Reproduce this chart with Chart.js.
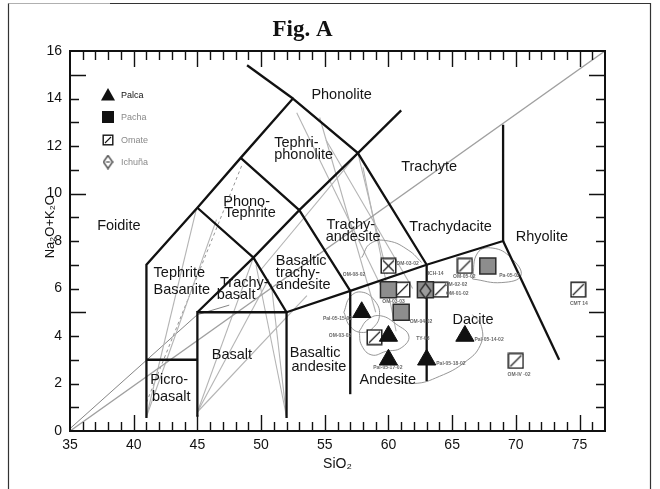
<!DOCTYPE html>
<html>
<head>
<meta charset="utf-8">
<script src="https://cdn.jsdelivr.net/npm/chart.js@4.4.1/dist/chart.umd.min.js"></script>
<style>
  html, body { margin: 0; padding: 0; background: #fff; }
  canvas { display: block; }
</style>
</head>
<body>
<canvas id="tas" width="660" height="489"></canvas>
<script>
const SANS = "'Liberation Sans', Arial, Helvetica, sans-serif";

// Axis tick labels
const xTickLabels = [35, 40, 45, 50, 55, 60, 65, 70, 75];
const yTickLabels = [0, 2, 4, 6, 8, 10, 12, 14, 16];

// Sample groups: SiO2 and Na2O+K2O (wt %)
const groupNames = ['Palca', 'Pacha', 'Omate', 'Ichuña'];
const palcaSiO2  = [57.9, 60.0, 60.0, 63.0, 66.0];
const palcaAlk   = [5.0, 4.0, 3.0, 3.0, 4.0];
const pachaSiO2  = [60.0, 61.0, 62.9, 67.8];
const pachaAlk   = [5.95, 5.0, 5.95, 6.95];
const omateSiO2  = [60.0, 61.1, 64.1, 66.0, 58.9, 70.0, 74.9];
const omateAlk   = [6.95, 5.95, 5.95, 6.95, 3.95, 2.95, 5.95];
const ichunaSiO2 = [62.9];
const ichunaAlk  = [5.9];

// Sample tags
const tagText = ['OM-03-02', 'OM-08-02', 'ICH-14', 'OM-05-02', 'OM-02-02', 'OM-01-02', 'OM-03-03',
                 'OM-04-02', 'TY-03', 'Pal-05-15-02', 'OM-03-02', 'Pal-05-17-02', 'Pal-05-18-02',
                 'Pal-05-14-02', 'Pa-05-02', 'CMT 14', 'OM-IV -02'];
const tagSiO2 = [61.5, 57.3, 63.7, 65.95, 65.3, 65.4, 60.4, 62.55, 62.7, 56.0, 56.2, 59.95, 64.9, 67.9, 69.5, 74.95, 70.25];
const tagAlk  = [7.06, 6.6, 6.64, 6.5, 6.18, 5.8, 5.44, 4.6, 3.9, 4.75, 4.0, 2.65, 2.85, 3.85, 6.55, 5.38, 2.36];

// TAS field names (one entry per text line, left edge + middle)
const fieldText = ['Phonolite', 'Tephri-', 'phonolite', 'Trachyte', 'Trachydacite', 'Phono-', 'Tephrite',
                   'Foidite', 'Tephrite', 'Basanite', 'Trachy-', 'basalt', 'Basaltic', 'trachy-', 'andesite',
                   'Trachy-', 'andesite', 'Basalt', 'Picro-', 'basalt', 'Basaltic', 'andesite',
                   'Andesite', 'Dacite', 'Rhyolite'];
const fieldSiO2 = [53.95, 51.03, 51.03, 61.0, 61.64, 47.03, 47.1, 37.13, 41.56, 41.56, 46.78, 46.52,
                   51.16, 51.16, 51.16, 55.13, 55.07, 46.13, 41.3, 41.43, 52.25, 52.39, 57.73, 65.03, 69.99];
const fieldAlk  = [14.15, 12.11, 11.62, 11.13, 8.6, 9.65, 9.16, 8.63, 6.64, 5.94, 6.22, 5.73,
                   7.17, 6.64, 6.15, 8.67, 8.15, 3.2, 2.15, 1.44, 3.27, 2.71, 2.15, 4.67, 8.16];

// TAS field boundaries (SiO2, Na2O+K2O vertices)
const boundaries = [
  [[41, 0.55], [41, 7], [45, 9.4], [48.4, 11.5], [52.5, 14], [57.6, 11.7], [63, 7], [69, 8], [69, 12.9]],
  [[48.9, 15.4], [52.5, 14]],
  [[57.6, 11.7], [61, 13.5]],
  [[41, 3], [45, 3]],
  [[45, 0.6], [45, 5], [52, 5], [52, 0.55]],
  [[45, 5], [49.4, 7.3], [52, 5]],
  [[45, 9.4], [49.4, 7.3], [53, 9.3], [57, 5.9]],
  [[48.4, 11.5], [53, 9.3], [57.6, 11.7]],
  [[52, 5], [57, 5.9], [63, 7]],
  [[57, 1.55], [57, 5.9]],
  [[63, 2.1], [63, 7]],
  [[69, 8], [73.4, 3.0]]
];

// Alkaline / sub-alkaline divide
const divideLine = [[35, 0], [77, 16]];

// Faint projection lines
const faintLines = [
  [[41, 0.6], [44.9, 9.3]],
  [[41, 0.6], [46.5, 8.9]],
  [[45, 0.8], [49.4, 7.3]],
  [[45, 0.8], [50.6, 6.4]],
  [[45, 0.8], [53.6, 5.7]],
  [[52, 0.6], [49.6, 7.0]],
  [[52, 0.6], [50.8, 6.2]],
  [[52.8, 13.4], [59.5, 6.0]],
  [[54.6, 13.2], [59.0, 5.0]],
  [[58.0, 11.1], [60.6, 4.2]],
  [[57.6, 11.7], [59.9, 6.6]],
  [[57.6, 11.7], [50.0, 6.8]],
  [[55.1, 12.25], [61.9, 6.0]]
];
const darkThinLine = [[35, 0.1], [45, 4.9], [47.5, 5.3]];
const dottedLine = [[41, 1.2], [48.5, 11.2]];

// Group envelopes
const envelopes = [
  [[56.5, 5.0], [57.0, 5.65], [57.9, 5.85], [58.9, 5.5], [59.3, 4.9], [58.8, 4.35], [57.9, 4.15], [57.0, 4.4], [56.5, 5.0]],
  [[57.7, 4.2], [58.4, 4.7], [59.4, 4.85], [60.6, 4.5], [61.6, 4.0], [61.0, 3.5], [59.8, 3.35], [58.7, 3.2], [57.9, 3.6], [57.7, 4.2]],
  [[60.3, 2.2], [62, 2.0], [64, 2.3], [66, 2.9], [67.2, 3.6], [67.3, 4.4], [66.6, 4.9]],
  [[66.6, 6.4], [68.9, 6.25], [70.4, 6.55], [69.6, 7.3], [68.2, 7.7], [67.0, 7.5], [66.6, 6.4]],
  [[57.9, 7.3], [58.6, 7.9], [60.0, 8.0], [61.6, 7.6], [62.6, 7.1]]
];

// ---- marker glyphs ----
function omateGlyph(size, cross) {
  const c = document.createElement('canvas');
  c.width = size; c.height = size;
  const g = c.getContext('2d');
  g.fillStyle = '#fff';
  g.fillRect(1, 1, size - 2, size - 2);
  g.strokeStyle = '#151515';
  g.lineWidth = 1.4;
  g.strokeRect(1.2, 1.2, size - 2.4, size - 2.4);
  g.lineWidth = 1.1;
  g.beginPath();
  g.moveTo(3, size - 3); g.lineTo(size - 3, 3);
  if (cross) { g.moveTo(3, 3); g.lineTo(size - 3, size - 3); }
  g.stroke();
  return c;
}
function diamondGlyph(w, h, fill, bar) {
  const c = document.createElement('canvas');
  c.width = w; c.height = h;
  const g = c.getContext('2d');
  g.beginPath();
  g.moveTo(w / 2, 1); g.lineTo(w - 1, h / 2); g.lineTo(w / 2, h - 1); g.lineTo(1, h / 2); g.closePath();
  g.fillStyle = fill; g.fill();
  g.strokeStyle = '#2a2a2a'; g.lineWidth = 1.3; g.stroke();
  if (bar) {
    g.beginPath(); g.moveTo(w / 2 - 2, h / 2); g.lineTo(w / 2 + 2, h / 2);
    g.lineWidth = 1; g.stroke();
  }
  return c;
}
const omateBox = omateGlyph(17, false);
const omateCross = omateGlyph(17, true);
const ichunaDiamond = diamondGlyph(13, 17, '#9c9c9c', false);
const legendOmate = omateGlyph(12, false);
const legendDiamond = diamondGlyph(11, 15, '#fff', true);

const toPts = (xs, ys) => xs.map((v, i) => ({ x: v, y: ys[i] }));
const toXY = arr => arr.map(p => ({ x: p[0], y: p[1] }));

function lineSet(points, color, width, extra) {
  return Object.assign({
    type: 'scatter', data: toXY(points), showLine: true, pointRadius: 0,
    borderColor: color, borderWidth: width, fill: false, tension: 0
  }, extra || {});
}

const datasets = [];
// markers (drawn last)
datasets.push({ label: groupNames[2], data: toPts(omateSiO2, omateAlk), order: 3,
  pointStyle: omateSiO2.map((_, i) => i === 0 ? omateCross : omateBox), pointRadius: 9 });
datasets.push({ label: groupNames[1], data: toPts(pachaSiO2, pachaAlk), order: 2,
  pointStyle: 'rect', pointRadius: 11.3, pointBackgroundColor: '#8d8d8d',
  pointBorderColor: '#2b2b2b', pointBorderWidth: 1.5 });
datasets.push({ label: groupNames[3], data: toPts(ichunaSiO2, ichunaAlk), order: 1,
  pointStyle: ichunaDiamond, pointRadius: 8 });
datasets.push({ label: groupNames[0], data: toPts(palcaSiO2, palcaAlk), order: 0,
  pointStyle: 'triangle', pointRadius: 10.5, pointBackgroundColor: '#111',
  pointBorderColor: '#111', pointBorderWidth: 1 });
// field boundaries
boundaries.forEach(b => datasets.push(lineSet(b, '#111', 2.3, { order: 10 })));
// faint lines and envelopes
datasets.push(lineSet(divideLine, '#a0a0a0', 1.4, { order: 20 }));
faintLines.forEach(l => datasets.push(lineSet(l, '#b4b4b4', 1.1, { order: 21 })));
datasets.push(lineSet(darkThinLine, '#666', 0.8, { order: 21 }));
datasets.push(lineSet(dottedLine, '#777', 0.8, { order: 21, borderDash: [3, 3] }));
envelopes.forEach(e => datasets.push(lineSet(e, '#8a8a8a', 0.9, { order: 19, tension: 0.45 })));

const pageDecor = {
  id: 'pageDecor',
  beforeDraw(chart) {
    const ctx = chart.ctx;
    ctx.save();
    ctx.fillStyle = '#fff';
    ctx.fillRect(0, 0, chart.width, chart.height);
    ctx.lineWidth = 1.2;
    ctx.strokeStyle = '#b0b0b0';
    ctx.beginPath(); ctx.moveTo(8.5, 3.5); ctx.lineTo(110, 3.5); ctx.stroke();
    ctx.strokeStyle = '#333';
    ctx.beginPath();
    ctx.moveTo(8.5, 489); ctx.lineTo(8.5, 3.5);
    ctx.moveTo(110, 3.5); ctx.lineTo(650.5, 3.5); ctx.lineTo(650.5, 489);
    ctx.stroke();
    ctx.restore();
  },
  afterDatasetsDraw(chart) {
    const { ctx, chartArea: a, scales: { x, y } } = chart;
    ctx.save();
    // plot frame
    ctx.strokeStyle = '#111';
    ctx.lineWidth = 2;
    ctx.strokeRect(a.left, a.top, a.right - a.left, a.bottom - a.top);
    // inward tick marks
    ctx.lineWidth = 1.4;
    ctx.beginPath();
    for (let v = Math.ceil(x.min) + 1; v < x.max; v++) {
      const px = Math.round(x.getPixelForValue(v)) + 0.5;
      const len = v % 5 === 0 ? 16 : 9;
      ctx.moveTo(px, a.bottom); ctx.lineTo(px, a.bottom - len);
      ctx.moveTo(px, a.top); ctx.lineTo(px, a.top + len);
    }
    for (let v = y.min + 1; v < y.max; v++) {
      const py = Math.round(y.getPixelForValue(v)) + 0.5;
      const len = v % 5 === 0 ? 16 : 9;
      ctx.moveTo(a.left, py); ctx.lineTo(a.left + len, py);
      ctx.moveTo(a.right, py); ctx.lineTo(a.right - len, py);
    }
    ctx.stroke();

    // field names
    ctx.fillStyle = '#151515';
    ctx.font = '14.5px ' + SANS;
    ctx.textAlign = 'left';
    ctx.textBaseline = 'middle';
    fieldText.forEach((t, i) => {
      ctx.fillText(t, x.getPixelForValue(fieldSiO2[i]), y.getPixelForValue(fieldAlk[i]));
    });

    // sample tags
    ctx.fillStyle = '#6a6a6a';
    ctx.font = 'bold 5px ' + SANS;
    ctx.textAlign = 'center';
    tagText.forEach((t, i) => {
      ctx.fillText(t, x.getPixelForValue(tagSiO2[i]), y.getPixelForValue(tagAlk[i]));
    });

    // legend
    const lx = a.left + 38, rows = [a.top + 44, a.top + 66, a.top + 89, a.top + 111];
    ctx.fillStyle = '#111';
    ctx.beginPath();
    ctx.moveTo(lx, rows[0] - 7); ctx.lineTo(lx + 7, rows[0] + 5.5); ctx.lineTo(lx - 7, rows[0] + 5.5); ctx.closePath();
    ctx.fill();
    ctx.fillRect(lx - 6, rows[1] - 6, 12, 12);
    ctx.drawImage(legendOmate, lx - 6, rows[2] - 6);
    ctx.drawImage(legendDiamond, lx - 5.5, rows[3] - 7.5);
    ctx.font = '9px ' + SANS;
    ctx.textAlign = 'left';
    groupNames.forEach((n, i) => {
      ctx.fillStyle = i === 0 ? '#111' : '#8a8a8a';
      ctx.fillText(n, lx + 13, rows[i] + 1);
    });

    // vertical axis title
    ctx.fillStyle = '#111';
    ctx.font = '13px ' + SANS;
    ctx.textAlign = 'center';
    ctx.translate(50, y.getPixelForValue(8.6));
    ctx.rotate(-Math.PI / 2);
    ctx.fillText('Na\u2082O+K\u2082O', 0, 0);
    ctx.restore();
  }
};

new Chart(document.getElementById('tas'), {
  type: 'scatter',
  data: { datasets },
  options: {
    responsive: false,
    animation: false,
    events: [],
    devicePixelRatio: 1,
    layout: { padding: { left: 0, right: 55, top: 0, bottom: 0 } },
    plugins: {
      legend: { display: false },
      tooltip: { enabled: false },
      title: {
        display: true, text: 'Fig. A', color: '#111',
        font: { family: "'Liberation Serif', 'Times New Roman', serif", size: 23, weight: 'bold' },
        padding: { top: 16, bottom: 7.4 }
      }
    },
    scales: {
      x: {
        type: 'linear', position: 'bottom', min: 35, max: 77,
        afterBuildTicks: s => { s.ticks = xTickLabels.map(v => ({ value: v })); },
        afterFit: s => { s.height = 58; },
        grid: { display: false, drawTicks: false },
        border: { display: false },
        ticks: { color: '#111', padding: 6, font: { family: SANS, size: 14 } },
        title: { display: true, text: 'SiO\u2082', color: '#111', font: { family: SANS, size: 14 },
                 padding: { top: 0, bottom: 16 } }
      },
      y: {
        type: 'linear', position: 'left', min: 0, max: 16,
        afterBuildTicks: s => { s.ticks = yTickLabels.map(v => ({ value: v })); },
        afterFit: s => { s.width = 70; },
        grid: { display: false, drawTicks: false },
        border: { display: false },
        ticks: { color: '#111', padding: 8, font: { family: SANS, size: 14 } }
      }
    }
  },
  plugins: [pageDecor]
});
</script>
</body>
</html>
